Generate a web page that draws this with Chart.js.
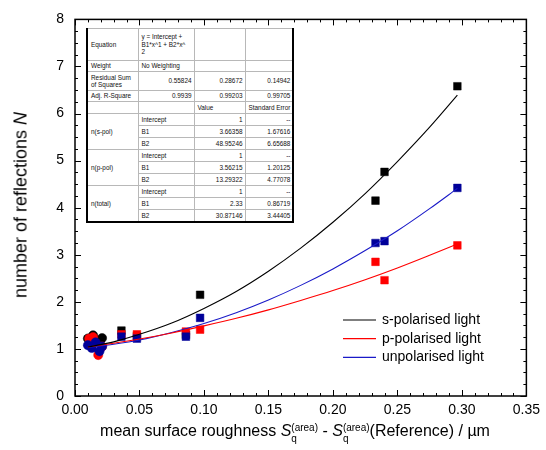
<!DOCTYPE html>
<html>
<head>
<meta charset="utf-8">
<script src="https://cdn.jsdelivr.net/npm/chart.js@4.4.0/dist/chart.umd.min.js"></script>
<style>
  body { margin: 0; background: #fff; }
  #wrap { position: relative; width: 546px; height: 450px; font-family: "Liberation Sans", Arial, sans-serif; }
  #chart { position: absolute; left: 0; top: 0; }
  #fitTable {
    position: absolute; left: 86px; top: 28px;
    border-collapse: collapse; background: #fff; table-layout: fixed;
    font-size: 6.4px; color: #111; line-height: 7.5px;
    border-top: 1px solid #000; border-left: 2px solid #000;
    border-right: 2px solid #000; border-bottom: 2px solid #000;
  }
  #fitTable td { border: 1px solid #b8b8b8; padding: 0 2px 0 3px; vertical-align: middle; white-space: nowrap; overflow: hidden; }
  #fitTable td.n { text-align: right; }
  #ytitle {
    position: absolute; left: 21px; top: 205px; font-size: 18px; white-space: nowrap;
    transform: translate(-50%, -50%) rotate(-90deg);
  }
  #xtitle { position: absolute; left: 295px; top: 432px; font-size: 16px; white-space: nowrap; transform: translate(-50%, -50%); }
  .ss { display: inline-block; vertical-align: middle; font-size: 10px; line-height: 11px; position: relative; top: 1px; }
  .ss span { display: block; }
</style>
</head>
<body>
<div id="wrap">
  <canvas id="chart" width="546" height="450"></canvas>
  <table id="fitTable">
    <colgroup><col style="width:51px"><col style="width:56px"><col style="width:51px"><col style="width:43px"></colgroup>
    <tr style="height:32px"><td>Equation</td><td>y = Intercept +<br>B1*x^1 + B2*x^<br>2</td><td></td><td></td></tr>
    <tr style="height:11px"><td>Weight</td><td>No Weighting</td><td></td><td></td></tr>
    <tr style="height:19px"><td>Residual Sum<br>of Squares</td><td class="n">0.55824</td><td class="n">0.28672</td><td class="n">0.14942</td></tr>
    <tr style="height:11px"><td>Adj. R-Square</td><td class="n">0.9939</td><td class="n">0.99203</td><td class="n">0.99705</td></tr>
    <tr style="height:12px"><td></td><td></td><td>Value</td><td>Standard Error</td></tr>
    <tr style="height:12px"><td rowspan="3">n(s-pol)</td><td>Intercept</td><td class="n">1</td><td class="n">--</td></tr>
    <tr style="height:12px"><td>B1</td><td class="n">3.66358</td><td class="n">1.67616</td></tr>
    <tr style="height:12px"><td>B2</td><td class="n">48.95246</td><td class="n">6.65688</td></tr>
    <tr style="height:12px"><td rowspan="3">n(p-pol)</td><td>Intercept</td><td class="n">1</td><td class="n">--</td></tr>
    <tr style="height:12px"><td>B1</td><td class="n">3.56215</td><td class="n">1.20125</td></tr>
    <tr style="height:12px"><td>B2</td><td class="n">13.29322</td><td class="n">4.77078</td></tr>
    <tr style="height:12px"><td rowspan="3">n(total)</td><td>Intercept</td><td class="n">1</td><td class="n">--</td></tr>
    <tr style="height:12px"><td>B1</td><td class="n">2.33</td><td class="n">0.86719</td></tr>
    <tr style="height:12px"><td>B2</td><td class="n">30.87146</td><td class="n">3.44405</td></tr>
  </table>
  <div id="ytitle">number of reflections <i>N</i></div>
  <div id="xtitle">mean surface roughness <i>S</i><span class="ss"><span>(area)</span><span>q</span></span> - <i>S</i><span class="ss"><span>(area)</span><span>q</span></span>(Reference) / µm</div>
</div>
<script>
// measured points
const sPolX = [0.010, 0.014, 0.017, 0.021, 0.036, 0.048, 0.086, 0.097, 0.233, 0.240, 0.2965];
const sPolN = [1.22, 1.29, 1.18, 1.23, 1.39, 1.27, 1.30, 2.15, 4.15, 4.76, 6.58];
const pPolX = [0.011, 0.014, 0.018, 0.021, 0.036, 0.048, 0.086, 0.097, 0.233, 0.240, 0.2965];
const pPolN = [1.22, 1.25, 0.87, 1.05, 1.31, 1.31, 1.37, 1.41, 2.85, 2.46, 3.20];
const unPolX = [0.010, 0.013, 0.016, 0.019, 0.021, 0.036, 0.048, 0.086, 0.097, 0.233, 0.240, 0.2965];
const unPolN = [1.08, 1.02, 1.14, 0.95, 1.05, 1.26, 1.22, 1.26, 1.66, 3.25, 3.29, 4.42];

// fit curves, values
const fitX = [0.010, 0.030, 0.050, 0.075, 0.100, 0.125, 0.150, 0.175, 0.200, 0.225, 0.250, 0.275, 0.2965];
const fitS = [1.04, 1.15, 1.31, 1.55, 1.86, 2.22, 2.65, 3.14, 3.69, 4.30, 4.98, 5.71, 6.39];
const fitP = [1.04, 1.12, 1.21, 1.34, 1.49, 1.65, 1.83, 2.03, 2.24, 2.47, 2.72, 2.99, 3.23];
const fitU = [1.03, 1.10, 1.19, 1.35, 1.54, 1.77, 2.04, 2.35, 2.70, 3.09, 3.51, 3.98, 4.41];

const xTicks = [0, 0.05, 0.10, 0.15, 0.20, 0.25, 0.30, 0.35];
const yTicks = [0, 1, 2, 3, 4, 5, 6, 7, 8];
const legendLabels = ['s-polarised light', 'p-polarised light', 'unpolarised light'];
const legendColors = ['#000000', '#ff0000', '#1a1ac8'];

const pts = (xs, ys) => xs.map((x, i) => ({ x: x, y: ys[i] }));
const markerStyle = ctx => (ctx.raw && ctx.raw.x < 0.025 ? 'circle' : 'rect');
const markerSize = ctx => (ctx.raw && ctx.raw.x < 0.025 ? 4.6 : 5.4);

function scatterSet(label, xs, ys, color, order) {
  return {
    type: 'scatter', label: label, data: pts(xs, ys), order: order,
    backgroundColor: color, borderColor: color, borderWidth: 0.5,
    pointStyle: markerStyle, pointRadius: markerSize, showLine: false
  };
}
function fitSet(label, ys, color) {
  return {
    type: 'line', label: label, data: pts(fitX, ys), order: 0,
    borderColor: color, borderWidth: 1.1, pointRadius: 0, fill: false,
    cubicInterpolationMode: 'monotone'
  };
}

// frame + inward ticks on all four sides
const frameTicks = {
  id: 'frameTicks',
  afterDatasetsDraw(chart) {
    const { ctx, chartArea: a, scales: { x, y } } = chart;
    ctx.save();
    ctx.strokeStyle = '#000';
    ctx.lineWidth = 1;
    ctx.beginPath();
    for (let v = 0; v <= 0.3501; v += 0.01) {
      const px = Math.round(x.getPixelForValue(v)) + 0.5;
      const major = Math.abs(v / 0.05 - Math.round(v / 0.05)) < 1e-6;
      const len = major ? 6 : 3;
      ctx.moveTo(px, a.bottom); ctx.lineTo(px, a.bottom - len);
      ctx.moveTo(px, a.top); ctx.lineTo(px, a.top + len);
    }
    for (let v = 0; v <= 8.001; v += 0.25) {
      const py = Math.round(y.getPixelForValue(v)) + 0.5;
      const major = Math.abs(v - Math.round(v)) < 1e-6;
      const len = major ? 6 : 3;
      ctx.moveTo(a.left, py); ctx.lineTo(a.left + len, py);
      ctx.moveTo(a.right, py); ctx.lineTo(a.right - len, py);
    }
    ctx.stroke();
    ctx.lineWidth = 1.5;
    ctx.strokeRect(a.left, a.top, a.right - a.left, a.bottom - a.top);
    ctx.restore();
  }
};

// legend inside the plot, lower right
const insideLegend = {
  id: 'insideLegend',
  afterDraw(chart) {
    const ctx = chart.ctx;
    ctx.save();
    ctx.font = '14px "Liberation Sans", Arial, sans-serif';
    ctx.textBaseline = 'middle';
    ctx.fillStyle = '#000';
    legendLabels.forEach((lab, i) => {
      const yy = 320 + i * 18.7;
      ctx.strokeStyle = legendColors[i];
      ctx.lineWidth = 1.2;
      ctx.beginPath(); ctx.moveTo(343, yy); ctx.lineTo(376, yy); ctx.stroke();
      ctx.fillText(lab, 382, yy);
    });
    ctx.restore();
  }
};

const tickFont = { family: '"Liberation Sans", Arial, sans-serif', size: 14 };

new Chart(document.getElementById('chart').getContext('2d'), {
  data: {
    datasets: [
      fitSet(legendLabels[0], fitS, legendColors[0]),
      fitSet(legendLabels[1], fitP, legendColors[1]),
      fitSet(legendLabels[2], fitU, legendColors[2]),
      scatterSet('unpolarised', unPolX, unPolN, '#000099', 1),
      scatterSet('p-polarised', pPolX, pPolN, '#ff0000', 2),
      scatterSet('s-polarised', sPolX, sPolN, '#000000', 3)
    ]
  },
  options: {
    responsive: false,
    animation: false,
    layout: { padding: { left: 0, right: 19, top: 16, bottom: 0 } },
    plugins: { legend: { display: false }, tooltip: { enabled: false } },
    scales: {
      x: {
        type: 'linear', min: 0, max: 0.35,
        afterBuildTicks: s => { s.ticks = xTicks.map(v => ({ value: v })); },
        afterFit: s => { s.height = 54; },
        grid: { display: false, drawTicks: false },
        border: { display: false },
        ticks: { color: '#000', font: tickFont, padding: 6, maxRotation: 0, callback: v => v.toFixed(2) }
      },
      y: {
        type: 'linear', min: 0, max: 8,
        afterBuildTicks: s => { s.ticks = yTicks.map(v => ({ value: v })); },
        afterFit: s => { s.width = 75; },
        grid: { display: false, drawTicks: false },
        border: { display: false },
        ticks: { color: '#000', font: tickFont, padding: 11 }
      }
    }
  },
  plugins: [frameTicks, insideLegend]
});
</script>
</body>
</html>
